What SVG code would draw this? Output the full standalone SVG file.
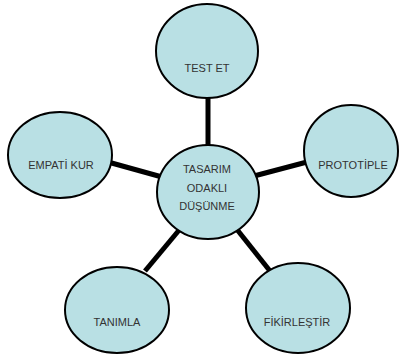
<svg xmlns="http://www.w3.org/2000/svg" width="399" height="356" viewBox="0 0 399 356">
<style>
.n{fill:#b9e0e4;stroke:#000;stroke-width:2}
.t{font-family:"Liberation Sans",Arial,sans-serif;font-size:11px;fill:#333;text-anchor:middle}
.c{stroke:#000;stroke-width:5;fill:none}
</style>
<rect width="399" height="356" fill="#fff"/>
<g id="connectors">
<line class="c" x1="208" y1="95" x2="208" y2="150"/>
<line class="c" x1="108" y1="162" x2="162" y2="177"/>
<line class="c" x1="254" y1="176" x2="307" y2="162"/>
<line class="c" x1="180" y1="229" x2="145" y2="271"/>
<line class="c" x1="235" y1="227" x2="270" y2="271"/>
</g>
<g id="center">
<ellipse class="n" cx="208" cy="192" rx="51" ry="47"/>
<text class="t" x="207" y="173">TASARIM</text>
<text class="t" x="207" y="192">ODAKLI</text>
<text class="t" x="207" y="210">DÜŞÜNME</text>
</g>
<g id="test-et">
<ellipse class="n" cx="207" cy="51" rx="51" ry="47"/>
<text class="t" x="207" y="72">TEST ET</text>
</g>
<g id="empati-kur">
<ellipse class="n" cx="60" cy="155" rx="52" ry="43"/>
<text class="t" x="61" y="169">EMPATİ KUR</text>
</g>
<g id="prototiple">
<ellipse class="n" cx="351" cy="151" rx="47" ry="46"/>
<text class="t" x="353" y="169">PROTOTİPLE</text>
</g>
<g id="tanimla">
<ellipse class="n" cx="117" cy="310" rx="52" ry="43"/>
<text class="t" x="117" y="326">TANIMLA</text>
</g>
<g id="fikirlestir">
<ellipse class="n" cx="298" cy="308" rx="52" ry="45"/>
<text class="t" x="297" y="326">FİKİRLEŞTİR</text>
</g>
</svg>
